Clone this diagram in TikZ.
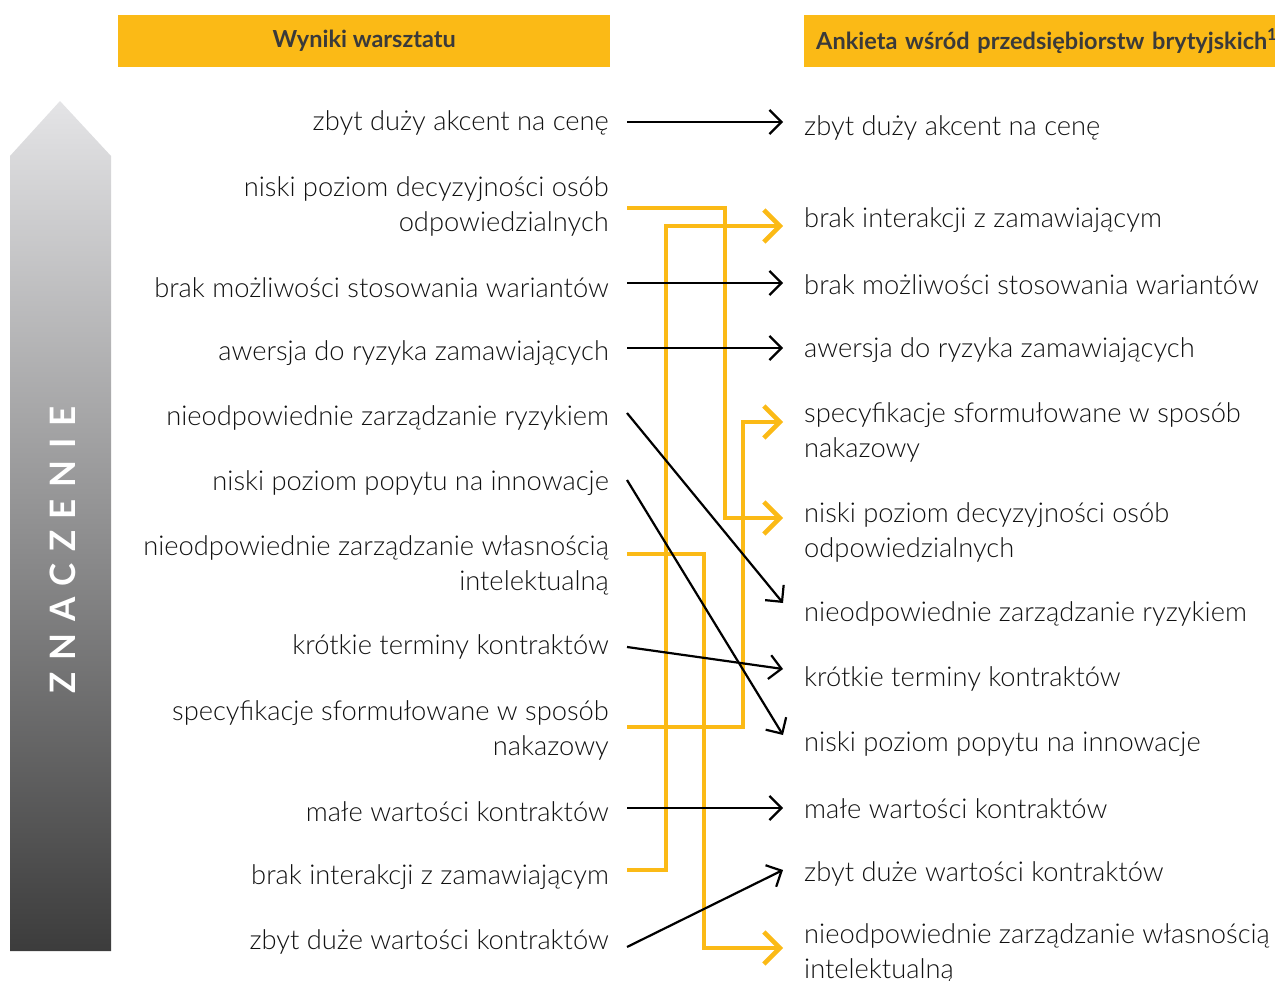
\documentclass[tikz,border=0pt]{standalone}
\usepackage{fontspec}
\setmainfont{Lato}[UprightFont=* Light, BoldFont=* Bold]
\usetikzlibrary{arrows.meta}
\definecolor{amber}{HTML}{FBBA16}
\definecolor{ink}{HTML}{111111}
\definecolor{headink}{HTML}{3A3A3A}
\definecolor{scaletop}{HTML}{E4E4E6}
\definecolor{scalebot}{HTML}{3C3C3C}
\begin{document}
\begin{tikzpicture}[x=1pt,y=-1pt,
  hdr/.style={fill=amber, text=headink, font=\fontsize{23.5}{26}\selectfont\bfseries,
    minimum height=52pt, inner xsep=12pt, inner ysep=0pt, anchor=north west},
  litem/.style={font=\fontsize{27.3}{35}\selectfont, text=ink, inner sep=0pt,
    align=right, anchor=east},
  ritem/.style={font=\fontsize{27.3}{35}\selectfont, text=ink, inner sep=0pt,
    align=left, anchor=west},
  blk/.style={draw=black, line width=2.2pt,
    -{Straight Barb[length=12pt,width=24pt,line width=2.2pt]}},
  ylw/.style={draw=amber, line width=4.5pt, line join=miter,
    -{Straight Barb[length=16pt,width=32pt,line width=4.5pt]}}]
\useasboundingbox (0,0) rectangle (1275,981);
\clip (0,0) rectangle (1275,981);

% importance scale
\shade[top color=scaletop, bottom color=scalebot]
  (60,101) -- (111,156) -- (111,951) -- (10,951) -- (10,156) -- cycle;
\node[rotate=90, text=white, font=\fontsize{35}{35}\selectfont\bfseries\addfontfeatures{LetterSpace=33}]
  (scale) at (63,550) {ZNACZENIE};

% column headers
\node[hdr, minimum width=492pt, align=center] (h1) at (118,15) {Wyniki warsztatu};
\node[hdr, minimum width=500pt, text width=476pt, align=left] (h2) at (804,15)
  {Ankieta wśród przedsiębiorstw brytyjskich\textsuperscript{1}};

% workshop results
\node[litem] (l1)  at (609,123) {zbyt duży akcent na cenę};
\node[litem] (l2)  at (609,206) {niski poziom decyzyjności osób\\odpowiedzialnych};
\node[litem] (l3)  at (609,288) {brak możliwości stosowania wariantów};
\node[litem] (l4)  at (609,353) {awersja do ryzyka zamawiających};
\node[litem] (l5)  at (609,418) {nieodpowiednie zarządzanie ryzykiem};
\node[litem] (l6)  at (609,483) {niski poziom popytu na innowacje};
\node[litem] (l7)  at (609,565) {nieodpowiednie zarządzanie własnością\\intelektualną};
\node[litem] (l8)  at (609,647) {krótkie terminy kontraktów};
\node[litem] (l9)  at (609,730) {specyfikacje sformułowane w sposób\\nakazowy};
\node[litem] (l10) at (609,812) {małe wartości kontraktów};
\node[litem] (l11) at (609,877) {brak interakcji z zamawiającym};
\node[litem] (l12) at (609,942) {zbyt duże wartości kontraktów};

% survey of British firms
\node[ritem] (r1)  at (804,128) {zbyt duży akcent na cenę};
\node[ritem] (r2)  at (804,220) {brak interakcji z zamawiającym};
\node[ritem] (r3)  at (804,285) {brak możliwości stosowania wariantów};
\node[ritem] (r4)  at (804,350) {awersja do ryzyka zamawiających};
\node[ritem] (r5)  at (804,432) {specyfikacje sformułowane w sposób\\nakazowy};
\node[ritem] (r6)  at (804,532) {niski poziom decyzyjności osób\\odpowiedzialnych};
\node[ritem] (r7)  at (804,614) {nieodpowiednie zarządzanie ryzykiem};
\node[ritem] (r8)  at (804,679) {krótkie terminy kontraktów};
\node[ritem] (r9)  at (804,744) {niski poziom popytu na innowacje};
\node[ritem] (r10) at (804,809) {małe wartości kontraktów};
\node[ritem] (r11) at (804,874) {zbyt duże wartości kontraktów};
\node[ritem] (r12) at (804,953) {nieodpowiednie zarządzanie własnością\\intelektualną};

% connector end points
\coordinate (a1)  at (627,122);  \coordinate (b1)  at (783,122);
\coordinate (a2)  at (627,208);  \coordinate (b6)  at (783,518);
\coordinate (a3)  at (627,283);  \coordinate (b3)  at (783,283);
\coordinate (a4)  at (627,348);  \coordinate (b4)  at (783,348);
\coordinate (a5)  at (627,413);  \coordinate (b7)  at (783,603);
\coordinate (a6)  at (627,480);  \coordinate (b9)  at (783,735);
\coordinate (a7)  at (627,554);  \coordinate (b12) at (783,948);
\coordinate (a8)  at (627,647);  \coordinate (b8)  at (783,669);
\coordinate (a9)  at (627,727);  \coordinate (b5)  at (783,422);
\coordinate (a10) at (627,808);  \coordinate (b10) at (783,808);
\coordinate (a11) at (627,870);  \coordinate (b2)  at (783,226);
\coordinate (a12) at (627,947);  \coordinate (b11) at (783,870);

% shifted rankings
\draw[ylw] (a2)  -- (725,208) |- (b6);
\draw[ylw] (a11) -- (666,870) |- (b2);
\draw[ylw] (a9)  -- (743,727) |- (b5);
\draw[ylw] (a7)  -- (704,554) |- (b12);

% direct links
\draw[blk] (a1)  -- (b1);
\draw[blk] (a3)  -- (b3);
\draw[blk] (a4)  -- (b4);
\draw[blk] (a5)  -- (b7);
\draw[blk] (a6)  -- (b9);
\draw[blk] (a8)  -- (b8);
\draw[blk] (a10) -- (b10);
\draw[blk] (a12) -- (b11);
\end{tikzpicture}
\end{document}
